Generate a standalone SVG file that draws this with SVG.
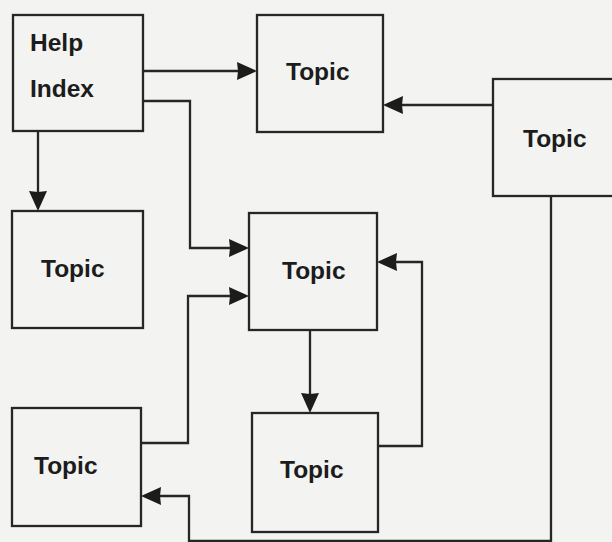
<svg xmlns="http://www.w3.org/2000/svg" width="612" height="542" viewBox="0 0 612 542">
<defs>
<path id="head" d="M0,0 L-20,-9 L-19,0 L-20,9 Z" fill="#1c1c1c"/>
<style>
.box{fill:none;stroke:#262626;stroke-width:2.3}
.lbl{font-family:"Liberation Sans",Arial,sans-serif;font-weight:bold;font-size:24.5px;fill:#1c1c1c}
.con{fill:none;stroke:#262626;stroke-width:2.3}
</style>
</defs>
<rect x="0" y="0" width="612" height="542" fill="#f3f3f1"/>
<g id="connectors">
<path class="con" d="M143,71 H250"/>
<use href="#head" transform="translate(257,71)"/>
<path class="con" d="M143,101 H190 V248 H243"/>
<use href="#head" transform="translate(249,248)"/>
<path class="con" d="M38,131 V204"/>
<use href="#head" transform="translate(38,211) rotate(90)"/>
<path class="con" d="M493,105 H390"/>
<use href="#head" transform="translate(383,105) rotate(180)"/>
<path class="con" d="M142,443 H188 V296 H243"/>
<use href="#head" transform="translate(249,296)"/>
<path class="con" d="M378,446 H422 V262 H384"/>
<use href="#head" transform="translate(377,262) rotate(180)"/>
<path class="con" d="M310,330 V406"/>
<use href="#head" transform="translate(310,413) rotate(90)"/>
<path class="con" d="M551,197 V541 H189 V496 H148"/>
<use href="#head" transform="translate(141,496) rotate(180)"/>
</g>
<g id="help-index">
<rect class="box" x="13" y="15" width="130" height="116"/>
<text class="lbl" x="30" y="51">Help</text>
<text class="lbl" x="30" y="97">Index</text>
</g>
<g id="topic-top">
<rect class="box" x="257" y="15" width="126" height="117"/>
<text class="lbl" x="286" y="80">Topic</text>
</g>
<g id="topic-right">
<rect class="box" x="493" y="79" width="130" height="117"/>
<text class="lbl" x="523" y="147">Topic</text>
</g>
<g id="topic-left">
<rect class="box" x="12" y="211" width="131" height="117"/>
<text class="lbl" x="41" y="277">Topic</text>
</g>
<g id="topic-middle">
<rect class="box" x="249" y="213" width="128" height="117"/>
<text class="lbl" x="282" y="279">Topic</text>
</g>
<g id="topic-bottom">
<rect class="box" x="252" y="413" width="126" height="119"/>
<text class="lbl" x="280" y="478">Topic</text>
</g>
<g id="topic-bottom-left">
<rect class="box" x="12" y="408" width="129" height="118"/>
<text class="lbl" x="34" y="474">Topic</text>
</g>
</svg>
